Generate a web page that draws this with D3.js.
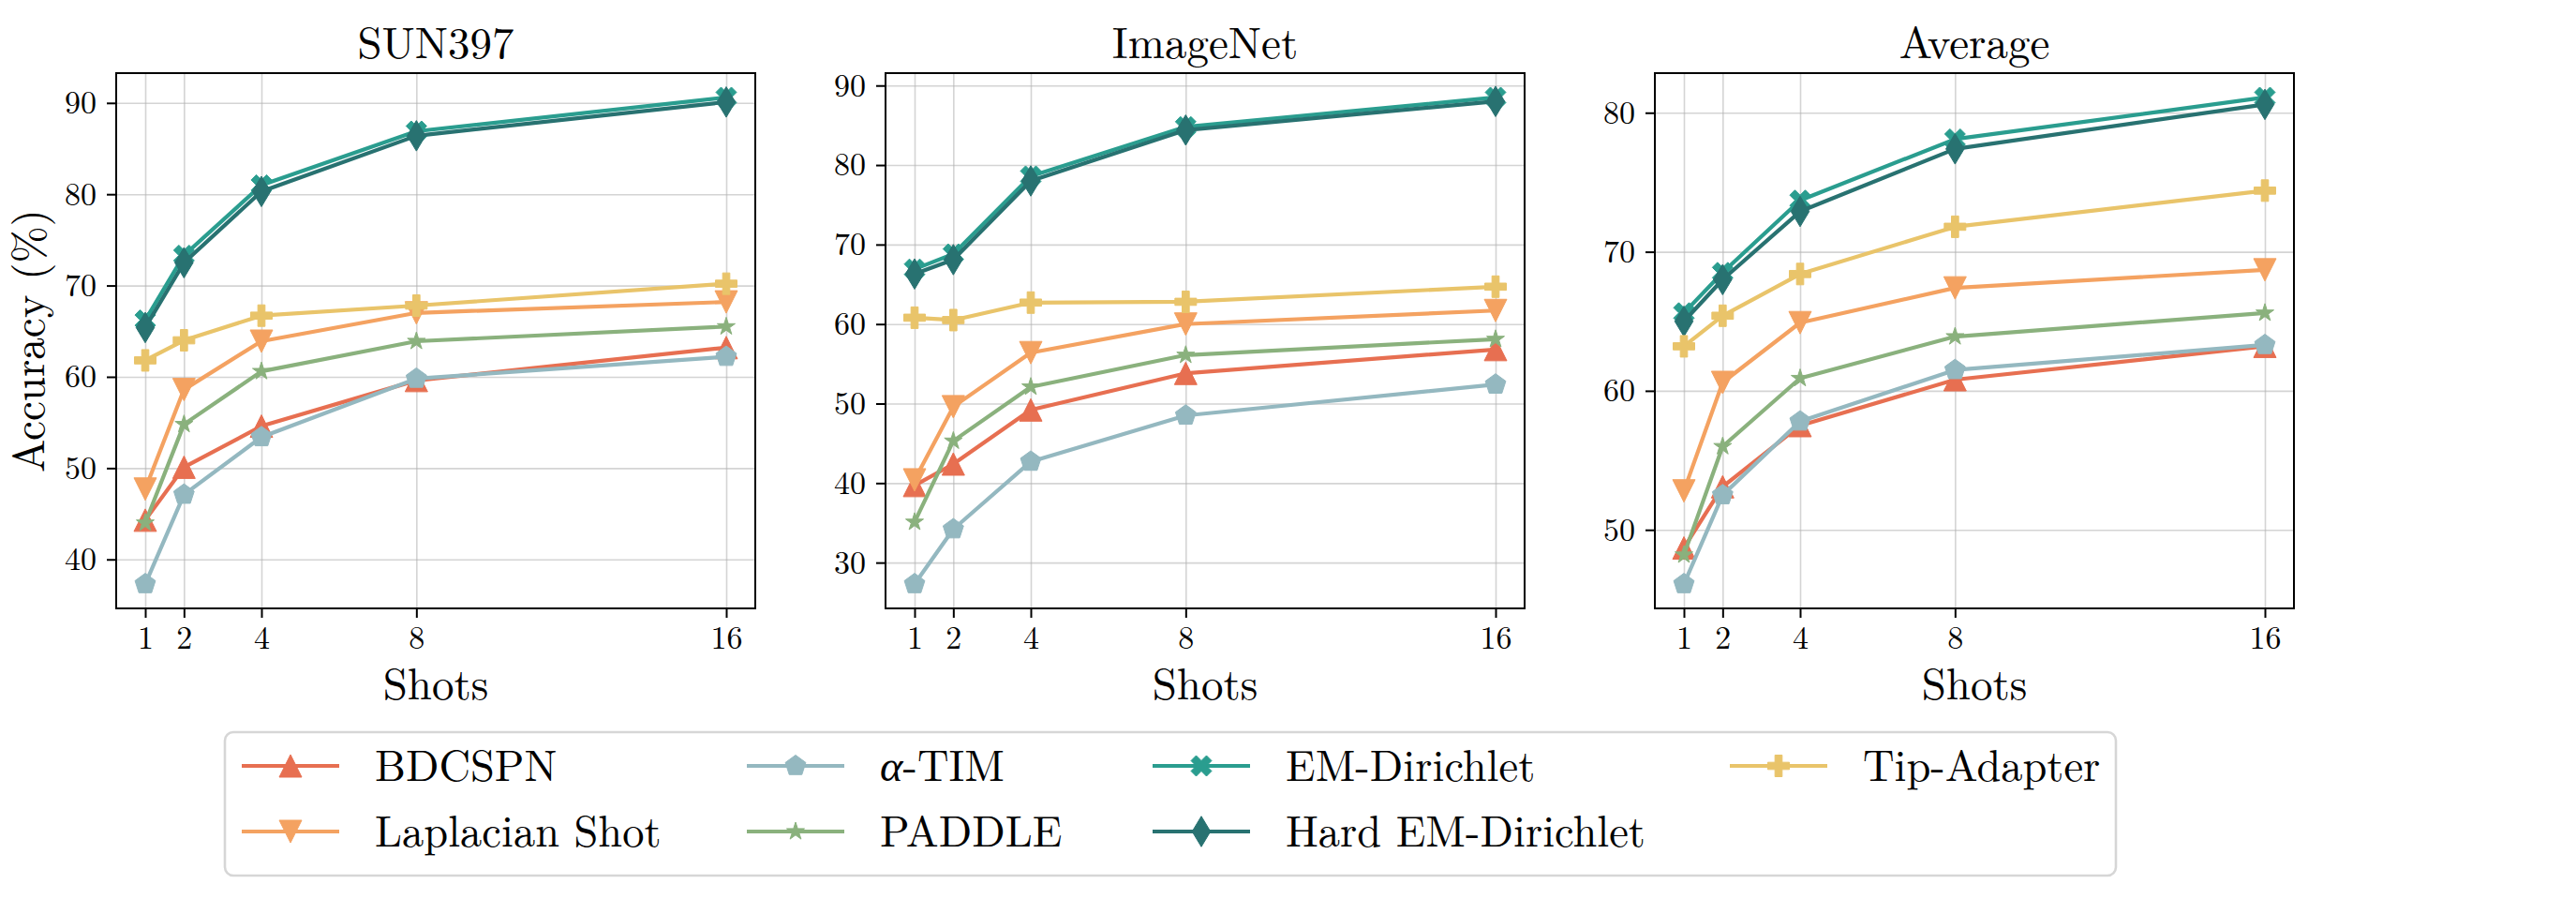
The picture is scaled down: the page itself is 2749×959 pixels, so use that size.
<!DOCTYPE html>
<html lang="en">
<head>
  <meta charset="UTF-8">
  <title>Accuracy vs shots</title>
  <script src="https://d3js.org/d3.v7.min.js"></script>
  <style>
    body { margin: 0; background: #fff; }
    svg { display: block; }
    svg text { font-family: "Latin Modern Roman", "Liberation Serif", serif; }
    .tick text { font-size: 34px; fill: #000; }
    .tick line { stroke: #000; stroke-width: 2px; }
    .grid line { stroke: #b0b0b0; stroke-opacity: 0.55; stroke-width: 1.6px; }
  </style>
</head>
<body>
<svg id="chart" width="2749" height="959"></svg>

<script>
const FONT = '"Latin Modern Roman", "Liberation Serif", serif';

// x values and labels
const shots = [1, 2, 4, 8, 16];
const methods = ["BDCSPN", "Laplacian Shot", "α-TIM", "PADDLE", "EM-Dirichlet", "Hard EM-Dirichlet", "Tip-Adapter"];
const colors = ["#e76f51", "#f4a261", "#94b8c0", "#8ab17d", "#2a9d8f", "#287271", "#e9c46a"];
const markerTypes = ["^", "v", "p", "*", "X", "d", "P"];
const markerSizes = [24, 24, 23, 20, 22, 23, 23];
const panelTitles = ["SUN397", "ImageNet", "Average"];

// accuracy (%) per method, in the order of `methods`
const sun397Acc = [
  [44.3, 50.1, 54.6, 59.6, 63.2],
  [47.7, 58.6, 63.9, 67.0, 68.2],
  [37.3, 47.1, 53.4, 59.8, 62.2],
  [44.0, 54.8, 60.6, 63.9, 65.5],
  [66.2, 73.3, 81.0, 86.9, 90.6],
  [65.4, 72.5, 80.3, 86.4, 90.1],
  [61.8, 64.0, 66.7, 67.8, 70.2]
];
const imagenetAcc = [
  [39.7, 42.4, 49.2, 53.8, 56.8],
  [40.4, 49.6, 56.4, 60.0, 61.7],
  [27.3, 34.2, 42.7, 48.5, 52.4],
  [35.1, 45.3, 52.1, 56.1, 58.1],
  [66.9, 68.8, 78.6, 84.8, 88.5],
  [66.3, 68.1, 78.0, 84.4, 88.0],
  [60.8, 60.5, 62.7, 62.8, 64.7]
];
const averageAcc = [
  [48.7, 53.1, 57.5, 60.8, 63.2],
  [52.8, 60.6, 64.9, 67.4, 68.7],
  [46.1, 52.5, 57.8, 61.5, 63.3],
  [48.2, 56.0, 60.9, 63.9, 65.6],
  [65.6, 68.5, 73.7, 78.1, 81.1],
  [65.0, 68.0, 72.9, 77.4, 80.6],
  [63.2, 65.4, 68.4, 71.8, 74.4]
];
const sun397Ticks = [40, 50, 60, 70, 80, 90];
const imagenetTicks = [30, 40, 50, 60, 70, 80, 90];
const averageTicks = [50, 60, 70, 80];

const panels = [
  { title: panelTitles[0], acc: sun397Acc, ticks: sun397Ticks },
  { title: panelTitles[1], acc: imagenetAcc, ticks: imagenetTicks },
  { title: panelTitles[2], acc: averageAcc, ticks: averageTicks }
];

const svg = d3.select("#chart");
const panelLeft = [124, 945, 1766];
const panelW = 682, plotTop = 78, plotBottom = 649;

// matplotlib-like marker shapes
function markerPath(type, ms) {
  const h = ms / 2;
  let pts;
  if (type === "^") pts = [[0, -h], [-h, h], [h, h]];
  else if (type === "v") pts = [[0, h], [-h, -h], [h, -h]];
  else if (type === "p") pts = d3.range(5).map(i => {
    const a = -Math.PI / 2 + i * 2 * Math.PI / 5;
    return [h * Math.cos(a), h * Math.sin(a)];
  });
  else if (type === "*") pts = d3.range(10).map(i => {
    const r = i % 2 ? h * 0.381966 : h;
    const a = -Math.PI / 2 + i * Math.PI / 5;
    return [r * Math.cos(a), r * Math.sin(a)];
  });
  else if (type === "X") pts = [[-0.25, -0.5], [0, -0.25], [0.25, -0.5], [0.5, -0.25], [0.25, 0], [0.5, 0.25],
    [0.25, 0.5], [0, 0.25], [-0.25, 0.5], [-0.5, 0.25], [-0.25, 0], [-0.5, -0.25]].map(([x, y]) => [x * ms, y * ms]);
  else if (type === "P") pts = [[-1, -3], [1, -3], [1, -1], [3, -1], [3, 1], [1, 1], [1, 3], [-1, 3],
    [-1, 1], [-3, 1], [-3, -1], [-1, -1]].map(([x, y]) => [x * ms / 6, y * ms / 6]);
  else if (type === "d") {
    const r = ms * 0.7071;
    pts = [[0, -r], [0.6 * r, 0], [0, r], [-0.6 * r, 0]];
  }
  return d3.line()(pts) + "Z";
}

panels.forEach((p, pi) => {
  const left = panelLeft[pi];
  const x = d3.scaleLinear().domain([0.25, 16.75]).range([left, left + panelW]);
  const flat = p.acc.flat();
  const [lo, hi] = d3.extent(flat);
  const pad = (hi - lo) * 0.05;
  const y = d3.scaleLinear().domain([lo - pad, hi + pad]).range([plotBottom, plotTop]);

  const g = svg.append("g");

  // grid
  g.append("g").attr("class", "grid")
    .attr("transform", `translate(0,${plotBottom})`)
    .call(d3.axisBottom(x).tickValues(shots).tickSize(-(plotBottom - plotTop)).tickFormat(""))
    .call(s => s.select(".domain").remove());
  g.append("g").attr("class", "grid")
    .attr("transform", `translate(${left},0)`)
    .call(d3.axisLeft(y).tickValues(p.ticks).tickSize(-panelW).tickFormat(""))
    .call(s => s.select(".domain").remove());

  // series
  p.acc.forEach((vals, si) => {
    const pts = vals.map((v, i) => [x(shots[i]), y(v)]);
    g.append("path")
      .attr("d", d3.line()(pts))
      .attr("fill", "none")
      .attr("stroke", colors[si])
      .attr("stroke-width", 4.2)
      .attr("stroke-linejoin", "round");
    g.selectAll(null)
      .data(pts)
      .join("path")
      .attr("transform", d => `translate(${d[0]},${d[1]})`)
      .attr("d", markerPath(markerTypes[si], markerSizes[si]))
      .attr("fill", colors[si])
      .attr("stroke", colors[si])
      .attr("stroke-width", 1);
  });

  // frame
  g.append("rect")
    .attr("x", left).attr("y", plotTop)
    .attr("width", panelW).attr("height", plotBottom - plotTop)
    .attr("fill", "none").attr("stroke", "#000").attr("stroke-width", 2);

  // axes
  g.append("g")
    .attr("transform", `translate(0,${plotBottom})`)
    .call(d3.axisBottom(x).tickValues(shots).tickSize(10).tickPadding(9).tickFormat(d3.format("d")))
    .attr("font-family", FONT).attr("font-size", 34)
    .call(s => s.select(".domain").remove());
  g.append("g")
    .attr("transform", `translate(${left},0)`)
    .call(d3.axisLeft(y).tickValues(p.ticks).tickSize(10).tickPadding(11).tickFormat(d3.format("d")))
    .attr("font-family", FONT).attr("font-size", 34)
    .call(s => s.select(".domain").remove());

  // title and x label
  g.append("text")
    .attr("x", left + panelW / 2).attr("y", 62)
    .attr("text-anchor", "middle")
    .attr("font-family", FONT)
    .attr("font-size", 47)
    .text(p.title);
  g.append("text")
    .attr("x", left + panelW / 2).attr("y", 746)
    .attr("text-anchor", "middle")
    .attr("font-family", FONT)
    .attr("font-size", 47)
    .text("Shots");
});

// y label
svg.append("text")
  .attr("transform", `translate(47,${(plotTop + plotBottom) / 2}) rotate(-90)`)
  .attr("text-anchor", "middle")
  .attr("font-family", FONT)
  .attr("font-size", 47)
  .text("Accuracy (%)");

// legend (4 columns, filled column by column)
const legend = svg.append("g");
legend.append("rect")
  .attr("x", 240).attr("y", 781)
  .attr("width", 2018).attr("height", 153)
  .attr("rx", 9)
  .attr("fill", "#fff")
  .attr("stroke", "#d6d6d6")
  .attr("stroke-width", 2.6);

const colX = [258, 797, 1230, 1846];
const rowY = [817, 887];
methods.forEach((m, i) => {
  const cx = colX[Math.floor(i / 2)];
  const cy = rowY[i % 2];
  const item = legend.append("g");
  item.append("line")
    .attr("x1", cx).attr("x2", cx + 104)
    .attr("y1", cy).attr("y2", cy)
    .attr("stroke", colors[i]).attr("stroke-width", 4.2);
  item.append("path")
    .attr("transform", `translate(${cx + 52},${cy})`)
    .attr("d", markerPath(markerTypes[i], markerSizes[i]))
    .attr("fill", colors[i]).attr("stroke", colors[i]).attr("stroke-width", 1);
  const t = item.append("text")
    .attr("x", cx + 142).attr("y", cy + 16)
    .attr("font-family", FONT)
    .attr("font-size", 46.5);
  if (m.startsWith("α")) {
    t.append("tspan").attr("font-style", "italic").text("α");
    t.append("tspan").text(m.slice(1));
  } else {
    t.text(m);
  }
});
</script>
</body>
</html>
